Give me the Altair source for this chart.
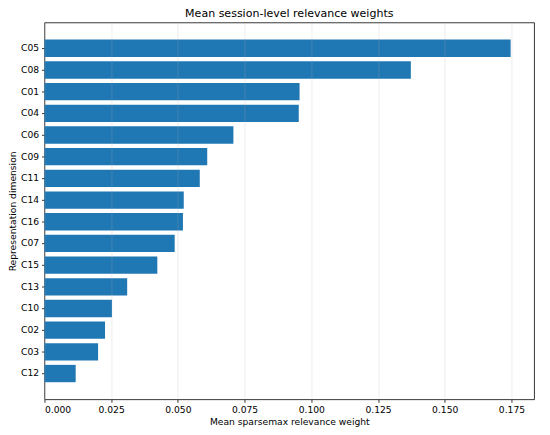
import altair as alt
import pandas as pd

dims = ["C05", "C08", "C01", "C04", "C06", "C09", "C11", "C14",
        "C16", "C07", "C15", "C13", "C10", "C02", "C03", "C12"]
weights = [0.1747, 0.1373, 0.0956, 0.0953, 0.0708, 0.0610, 0.0582, 0.0522,
           0.0519, 0.0488, 0.0423, 0.0310, 0.0253, 0.0227, 0.0201, 0.0117]
tick_values = [0.0, 0.025, 0.05, 0.075, 0.1, 0.125, 0.15, 0.175]
title_text = ["Mean session-level relevance weights"]

df = pd.DataFrame({"dim": dims, "w": weights})
tdf = pd.DataFrame({"t": title_text})

FONT = "DejaVu Sans"
FS = 9.3
W, H = 497, 382.5

bars = alt.Chart(df).mark_bar(color="#1f77b4").encode(
    x=alt.X(
        "w:Q",
        scale=alt.Scale(domain=[0, 0.1835], nice=False, zero=True),
        axis=alt.Axis(
            values=tick_values, format=".3f",
            title="Mean sparsemax relevance weight",
            grid=True, gridColor="#b0b0b0", gridOpacity=0.3, gridWidth=0.8,
            zindex=1, domain=False,
            tickSize=3, tickWidth=0.8, tickColor="#000",
            labelFontSize=FS, labelPadding=3, labelColor="#000", labelFont=FONT,
            titleFontSize=FS, titleFontWeight="normal", titleColor="#000",
            titleFont=FONT, titlePadding=3,
        ),
    ),
    y=alt.Y(
        "dim:N", sort=dims,
        scale=alt.Scale(paddingInner=0.2, paddingOuter=0.79),
        axis=alt.Axis(
            title="Representation dimension", grid=False, domain=False,
            tickSize=3, tickWidth=0.8, tickColor="#000",
            labelFontSize=FS, labelPadding=3, labelColor="#000", labelFont=FONT,
            titleFontSize=FS, titleFontWeight="normal", titleColor="#000",
            titleFont=FONT, titlePadding=3,
        ),
    ),
)

title = alt.Chart(tdf).mark_text(
    font=FONT, fontSize=11.2, color="#000", align="center",
    baseline="alphabetic", clip=False,
).encode(
    x=alt.value(W / 2), y=alt.value(-5.5), text="t:N",
)

chart = alt.layer(bars, title).properties(
    width=W,
    height=H,
    padding={"left": 37, "top": 11.5, "right": 8, "bottom": 33},
    autosize="none",
).configure_view(
    stroke="#000", strokeWidth=0.8
)

chart.save("out.html", embed_options={"renderer": "svg", "actions": False})
